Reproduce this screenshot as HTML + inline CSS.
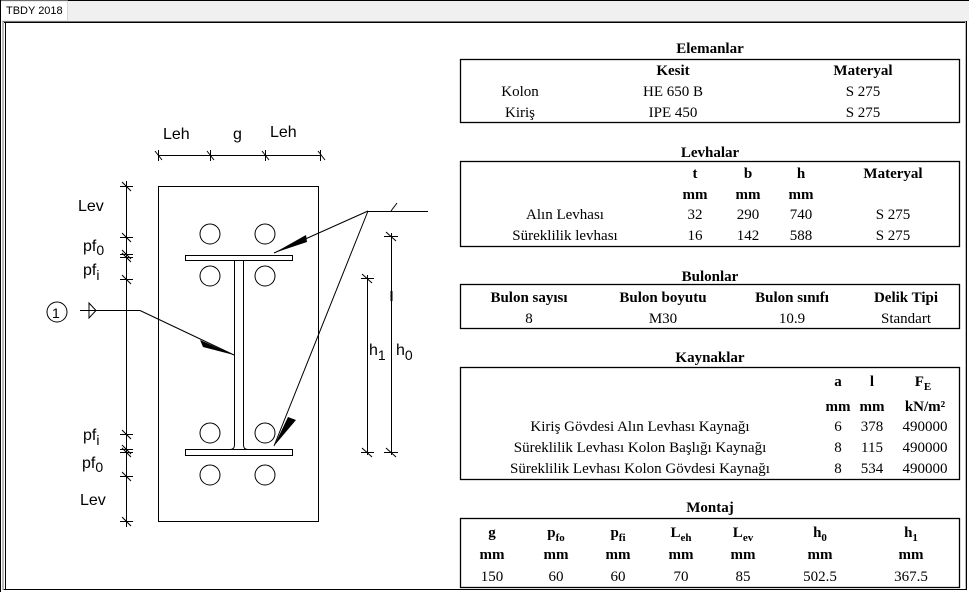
<!DOCTYPE html>
<html><head><meta charset="utf-8"><style>
html,body{margin:0;padding:0;background:#fff;width:969px;height:592px;overflow:hidden}
svg{display:block}
.t{font-family:"Liberation Serif",serif;font-size:15px;fill:#000;text-anchor:middle}
.b{font-weight:bold}
.c{font-family:"Liberation Sans",sans-serif;font-size:16px;fill:#000}
</style></head><body>
<svg width="969" height="592" viewBox="0 0 969 592" xmlns="http://www.w3.org/2000/svg">
<rect x="0" y="0" width="969" height="21" fill="#f0f0f0"/>
<line x1="0" y1="0.5" x2="969" y2="0.5" stroke="#000"/>
<rect x="0.5" y="1" width="67" height="20" fill="#fff" stroke="#d8d8d8"/>
<line x1="0.5" y1="0" x2="0.5" y2="592" stroke="#000"/>
<text x="6" y="14" font-family="Liberation Sans,sans-serif" font-size="11" fill="#000">TBDY 2018</text>
<rect x="3" y="21.5" width="963" height="568" fill="#fff" stroke="#777"/>
<line x1="4" y1="22.5" x2="965" y2="22.5" stroke="#000"/>
<line x1="5.5" y1="22" x2="5.5" y2="589" stroke="#000"/>
<line x1="4" y1="589.5" x2="966" y2="589.5" stroke="#000"/>
<line x1="966.5" y1="21" x2="966.5" y2="590" stroke="#000"/>

<g stroke="#000" fill="none" stroke-width="1">
<rect x="158.5" y="186.5" width="160" height="335"/>
<path d="M185.5 255.5 H292.5 V260.5 H185.5 Z M185.5 449.5 H292.5 V455.5 H185.5 Z"/>
<path d="M234.5 260.5 V445 Q234.5 449.5 230 449.5 M243.5 260.5 V445 Q243.5 449.5 248 449.5"/>
<circle cx="210" cy="234" r="10"/><circle cx="265" cy="234" r="10"/>
<circle cx="210" cy="276" r="10"/><circle cx="265" cy="276" r="10"/>
<circle cx="210" cy="433" r="10"/><circle cx="265" cy="433" r="10"/>
<circle cx="210" cy="475" r="10"/><circle cx="265" cy="475" r="10"/>
<line x1="158" y1="155.5" x2="321" y2="155.5"/>
<path d="M155 151 L162 160 M207 151 L214 160 M262 151 L269 160 M318 151 L325 160"/>
<line x1="158.5" y1="150" x2="158.5" y2="161"/><line x1="210.5" y1="150" x2="210.5" y2="161"/><line x1="265.5" y1="150" x2="265.5" y2="161"/><line x1="320.5" y1="150" x2="320.5" y2="161"/>
<line x1="126.5" y1="181" x2="126.5" y2="527"/>
<path d="M120 186.5 H133 M120 237.5 H133 M120 254.5 H133 M120 257.5 H133 M120 279.5 H133 M120 434.5 H133 M120 449.5 H133 M120 452.5 H133 M120 476.5 H133 M120 521.5 H133"/>
<path d="M122 182 L131 191 M122 233 L131 242 M122 250 L131 259 M122 253 L131 262 M122 275 L131 284 M122 430 L131 439 M122 445 L131 454 M122 448 L131 457 M122 472 L131 481 M122 517 L131 526"/>
<circle cx="57" cy="312" r="10"/>
<line x1="80" y1="310.5" x2="140" y2="310.5"/>
<path d="M89 303 L96 310.5 L89 318 Z"/>
<line x1="140" y1="310.5" x2="234" y2="355"/>
<line x1="368" y1="211.5" x2="428" y2="211.5"/>
<line x1="391" y1="211" x2="397" y2="203"/>
<line x1="368" y1="211" x2="274" y2="253"/>
<line x1="368" y1="211" x2="274" y2="446"/>
<line x1="391.5" y1="233" x2="391.5" y2="455"/>
<path d="M384 236.5 H398 M384 452.5 H398 M386 232 L396 241 M386 448 L396 457"/>
<line x1="391.5" y1="291" x2="391.5" y2="301" stroke-width="2"/>
<line x1="367.5" y1="275" x2="367.5" y2="455"/>
<path d="M361 278.5 H374 M361 452.5 H374 M362 274 L372 283 M362 448 L372 457"/>
</g>
<g fill="#000">
<path d="M234 355 L200 340 L203 347 Z"/>
<path d="M274 253 L306 235 L307 242 Z"/>
<path d="M274 446 L288 417 L296 420 Z"/>
</g>
<g class="c">
<text x="163" y="139">Leh</text><text x="233" y="139">g</text><text x="270" y="137">Leh</text>
<text x="78" y="211">Lev</text>
<text x="83" y="251">pf<tspan font-size="14" dy="4">0</tspan></text>
<text x="83" y="275">pf<tspan font-size="14" dy="5">i</tspan></text>
<text x="83" y="440">pf<tspan font-size="14" dy="5">i</tspan></text>
<text x="82" y="468">pf<tspan font-size="14" dy="4">0</tspan></text>
<text x="80" y="505">Lev</text>
<text x="52" y="318" font-size="14">1</text>
<text x="369" y="355">h<tspan font-size="14" dy="5">1</tspan></text>
<text x="396" y="355">h<tspan font-size="14" dy="5">0</tspan></text>
</g>

<g stroke="#000" fill="none" stroke-width="1.3">
<rect x="460.5" y="59.5" width="499" height="63"/>
<rect x="460.5" y="161.5" width="499" height="85"/>
<rect x="460.5" y="284.5" width="499" height="44"/>
<rect x="460.5" y="367.5" width="499" height="112"/>
<rect x="460.5" y="518.5" width="499" height="69"/>
</g>

<text class="t b" x="710" y="53">Elemanlar</text>
<text class="t b" x="673" y="75">Kesit</text><text class="t b" x="863" y="75">Materyal</text>
<text class="t" x="520" y="96">Kolon</text><text class="t" x="673" y="96">HE 650 B</text><text class="t" x="863" y="96">S 275</text>
<text class="t" x="520" y="117">Kiriş</text><text class="t" x="673" y="117">IPE 450</text><text class="t" x="863" y="117">S 275</text>

<text class="t b" x="710" y="157">Levhalar</text>
<text class="t b" x="695" y="178">t</text><text class="t b" x="748" y="178">b</text><text class="t b" x="801" y="178">h</text><text class="t b" x="893" y="178">Materyal</text>
<text class="t b" x="695" y="199">mm</text><text class="t b" x="748" y="199">mm</text><text class="t b" x="801" y="199">mm</text>
<text class="t" x="565" y="219">Alın Levhası</text><text class="t" x="695" y="219">32</text><text class="t" x="748" y="219">290</text><text class="t" x="801" y="219">740</text><text class="t" x="893" y="219">S 275</text>
<text class="t" x="565" y="240">Süreklilik levhası</text><text class="t" x="695" y="240">16</text><text class="t" x="748" y="240">142</text><text class="t" x="801" y="240">588</text><text class="t" x="893" y="240">S 275</text>

<text class="t b" x="710" y="281">Bulonlar</text>
<text class="t b" x="529" y="302">Bulon sayısı</text><text class="t b" x="663" y="302">Bulon boyutu</text><text class="t b" x="792" y="302">Bulon sınıfı</text><text class="t b" x="906" y="302">Delik Tipi</text>
<text class="t" x="529" y="323">8</text><text class="t" x="663" y="323">M30</text><text class="t" x="792" y="323">10.9</text><text class="t" x="906" y="323">Standart</text>

<text class="t b" x="710" y="362">Kaynaklar</text>
<text class="t b" x="838" y="386">a</text><text class="t b" x="872" y="386">l</text><text class="t b" x="923" y="386">F<tspan font-size="11" dy="4">E</tspan></text>
<text class="t b" x="838" y="411">mm</text><text class="t b" x="872" y="411">mm</text><text class="t b" x="925" y="411">kN/m²</text>
<text class="t" x="640" y="431">Kiriş Gövdesi Alın Levhası Kaynağı</text><text class="t" x="838" y="431">6</text><text class="t" x="872" y="431">378</text><text class="t" x="925" y="431">490000</text>
<text class="t" x="640" y="452">Süreklilik Levhası Kolon Başlığı Kaynağı</text><text class="t" x="838" y="452">8</text><text class="t" x="872" y="452">115</text><text class="t" x="925" y="452">490000</text>
<text class="t" x="640" y="473">Süreklilik Levhası Kolon Gövdesi Kaynağı</text><text class="t" x="838" y="473">8</text><text class="t" x="872" y="473">534</text><text class="t" x="925" y="473">490000</text>

<text class="t b" x="710" y="512">Montaj</text>
<text class="t b" x="492" y="537">g</text>
<text class="t b" x="556" y="537">p<tspan font-size="11" dy="4">fo</tspan></text>
<text class="t b" x="618" y="537">p<tspan font-size="11" dy="4">fi</tspan></text>
<text class="t b" x="681" y="537">L<tspan font-size="11" dy="4">eh</tspan></text>
<text class="t b" x="743" y="537">L<tspan font-size="11" dy="4">ev</tspan></text>
<text class="t b" x="820" y="537">h<tspan font-size="11" dy="4">0</tspan></text>
<text class="t b" x="911" y="537">h<tspan font-size="11" dy="4">1</tspan></text>
<text class="t b" x="492" y="559">mm</text><text class="t b" x="556" y="559">mm</text><text class="t b" x="618" y="559">mm</text><text class="t b" x="681" y="559">mm</text><text class="t b" x="743" y="559">mm</text><text class="t b" x="820" y="559">mm</text><text class="t b" x="911" y="559">mm</text>
<text class="t" x="492" y="581">150</text><text class="t" x="556" y="581">60</text><text class="t" x="618" y="581">60</text><text class="t" x="681" y="581">70</text><text class="t" x="743" y="581">85</text><text class="t" x="820" y="581">502.5</text><text class="t" x="911" y="581">367.5</text>
</svg>
</body></html>
